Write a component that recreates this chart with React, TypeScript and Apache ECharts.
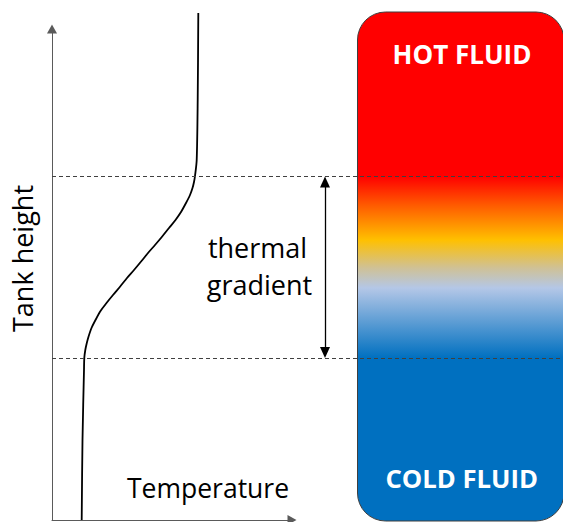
import React, { useEffect, useRef } from "react";
import * as echarts from "echarts";

// Temperature profile (temperature units along x, tank height units along y)
const profileTemperature = [
  29.7, 30.5, 32, 32.3, 33.3, 34.8, 36.5, 39.5, 43.5, 48.5, 54.5, 61, 68, 75, 82, 89.5, 96, 103, 110, 117,
  123.5, 129, 134, 138, 140.5, 142, 143, 144.7, 145.7, 146.3,
];
const profileHeight = [
  0, 80, 150, 162, 170, 177, 183.3, 192, 200, 209, 217, 225, 233.3, 242, 250, 259, 267, 275, 283.3, 292,
  300, 308, 317, 325, 332, 338, 344, 360, 420, 507,
];

// Thermocline boundaries (tank height units)
const gradientTop = 343.5;
const gradientBottom = 162;

// Tank extents [left, top, right, bottom] in the overlay coordinate system
const tankBox = [305.5, 508, 512, -1];

// Tank colour stops (height -> colour)
const tankStopHeights = [343.5, 315, 280, 252, 232, 162];
const tankStopColors = ["#ff0000", "#ff5a00", "#ffc000", "#cfc196", "#b4c7e7", "#0070c0"];

// Texts
const xAxisTitle = "Temperature";
const yAxisTitle = "Tank height";
const gradientLabel = ["thermal", "gradient"];
const hotLabel = "HOT FLUID";
const coldLabel = "COLD FLUID";

const FONT = "'Open Sans', 'Noto Sans', sans-serif";

export default function App() {
  const ref = useRef<HTMLDivElement>(null);

  useEffect(() => {
    if (!ref.current) return;
    const chart = echarts.init(ref.current, undefined, { renderer: "svg" });

    const arrowHead = 11;
    const option: any = {
      animation: false,
      backgroundColor: "#ffffff",
      grid: [
        { left: 52, top: 29, width: 240, height: 491, containLabel: false },
        { left: 52, top: 29, width: 511, height: 491, containLabel: false },
      ],
      xAxis: [
        {
          type: "value",
          gridIndex: 0,
          min: 0,
          max: 240,
          axisLine: {
            show: true,
            symbol: ["none", "triangle"],
            symbolSize: [10, 9],
            lineStyle: { color: "#5a5a5a", width: 1 },
          },
          axisTick: { show: false },
          axisLabel: { show: false },
          splitLine: { show: false },
        },
        { type: "value", gridIndex: 1, min: 0, max: 511, show: false, splitLine: { show: false } },
      ],
      yAxis: [
        {
          type: "value",
          gridIndex: 0,
          min: 0,
          max: 491,
          axisLine: {
            show: true,
            symbol: ["none", "triangle"],
            symbolSize: [10, 9],
            lineStyle: { color: "#5a5a5a", width: 1 },
          },
          axisTick: { show: false },
          axisLabel: { show: false },
          splitLine: { show: false },
        },
        { type: "value", gridIndex: 1, min: 0, max: 491, show: false, splitLine: { show: false } },
      ],
      series: [
        {
          type: "custom",
          xAxisIndex: 1,
          yAxisIndex: 1,
          z: 1,
          silent: true,
          clip: false,
          data: [tankBox],
          encode: { x: [0, 2], y: [1, 3] },
          renderItem: (params: any, api: any) => {
            const p1 = api.coord([api.value(0), api.value(1)]);
            const p2 = api.coord([api.value(2), api.value(3)]);
            const h = p2[1] - p1[1];
            const stops = tankStopHeights.map((hh, i) => ({
              offset: Math.min(1, Math.max(0, (api.coord([0, hh])[1] - p1[1]) / h)),
              color: tankStopColors[i],
            }));
            return {
              type: "rect",
              shape: { x: p1[0], y: p1[1], width: p2[0] - p1[0], height: h, r: 28 },
              style: {
                fill: new echarts.graphic.LinearGradient(0, 0, 0, 1, stops),
                stroke: "#3f3f3f",
                lineWidth: 1,
              },
            };
          },
        },
        {
          type: "line",
          xAxisIndex: 1,
          yAxisIndex: 1,
          z: 5,
          silent: true,
          data: [],
          markLine: {
            silent: true,
            symbol: ["none", "none"],
            label: { show: false },
            lineStyle: { color: "#404040", width: 1, type: [4, 3] },
            data: [{ yAxis: gradientTop }, { yAxis: gradientBottom }],
          },
        },
        {
          type: "line",
          xAxisIndex: 1,
          yAxisIndex: 1,
          z: 6,
          silent: true,
          data: [],
          markLine: {
            silent: true,
            symbol: ["triangle", "triangle"],
            symbolSize: [10, arrowHead],
            label: { show: false },
            lineStyle: { color: "#000000", width: 1.3, type: "solid" },
            data: [
              [
                { coord: [273, gradientTop - arrowHead / 2] },
                { coord: [273, gradientBottom + arrowHead / 2] },
              ],
            ],
          },
        },
        {
          type: "line",
          xAxisIndex: 0,
          yAxisIndex: 0,
          z: 4,
          clip: false,
          silent: true,
          smooth: 0.3,
          showSymbol: false,
          symbol: "none",
          lineStyle: { color: "#000000", width: 1.8 },
          data: profileTemperature.map((t, i) => [t, profileHeight[i]]),
        },
      ],
      graphic: [
        {
          type: "text",
          x: 22.5,
          y: 258.5,
          rotation: Math.PI / 2,
          style: { text: yAxisTitle, font: `27px ${FONT}`, fill: "#000", align: "center", verticalAlign: "middle" },
        },
        {
          type: "text",
          x: 208,
          y: 487.7,
          style: { text: xAxisTitle, font: `26.5px ${FONT}`, fill: "#000", align: "center", verticalAlign: "middle" },
        },
        {
          type: "text",
          x: 257.5,
          y: 247.5,
          style: { text: gradientLabel[0], font: `27px ${FONT}`, fill: "#000", align: "center", verticalAlign: "middle" },
        },
        {
          type: "text",
          x: 259.5,
          y: 284.5,
          style: { text: gradientLabel[1], font: `27px ${FONT}`, fill: "#000", align: "center", verticalAlign: "middle" },
        },
        {
          type: "text",
          x: 462,
          y: 54,
          z: 10,
          style: { text: hotLabel, font: `bold 26px ${FONT}`, fill: "#ffffff", align: "center", verticalAlign: "middle" },
        },
        {
          type: "text",
          x: 461.7,
          y: 478.5,
          z: 10,
          style: { text: coldLabel, font: `bold 25.7px ${FONT}`, fill: "#ffffff", align: "center", verticalAlign: "middle" },
        },
      ],
    };

    chart.setOption(option);
    return () => chart.dispose();
  }, []);

  return <div ref={ref} style={{ width: 563, height: 522, position: "absolute", left: 0, top: 0 }} />;
}
